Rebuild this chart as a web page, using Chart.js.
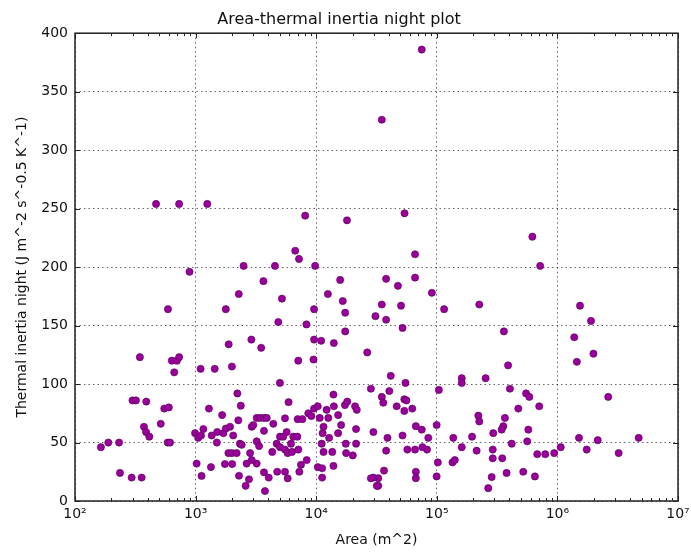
<!DOCTYPE html>
<html>
<head>
<meta charset="utf-8">
<title>Area-thermal inertia night plot</title>
<script src="https://cdn.jsdelivr.net/npm/chart.js@4.4.1/dist/chart.umd.min.js"></script>
<style>
  html, body { margin: 0; padding: 0; background: #fff; }
  canvas { display: block; }
</style>
</head>
<body>
<canvas id="scatter" width="691" height="553"></canvas>
<script>
// Area (m^2) of each feature
const area = [
  // upper part (> 110)
  75000, 35000, 470, 730, 1250, 8100, 18000, 54000, 620000, 66000,
  720000, 38000, 66000, 890, 2500, 4550, 6700, 7200, 9800, 3650,
  15800, 47600, 91000, 2280, 12500, 5200, 16600, 590, 1780, 9600,
  17400, 31000, 4850, 8300, 17400, 2900, 1880, 9600, 11000, 14000,
  3500, 26500, 345, 635, 700, 730, 665, 1100, 1440, 2000,
  7100, 9500, 35000, 50500, 38000, 52000, 115000, 225000, 360000, 1540000,
  1900000, 1380000, 1990000, 1450000, 390000,
  // middle / right side
  5000, 28400, 2220, 13900, 300, 320, 390, 2370, 5900, 550,
  600, 1290, 41500, 40400, 55000, 35000, 36000, 46500, 53800, 56000,
  53800, 62600, 104000, 161000, 161000, 254000, 404000, 550000, 585000, 474000,
  707000, 2640000, 221000, 225000, 367000, 356000, 345000, 294000, 574000, 562000,
  418000, 291000, 291000, 349000, 285000, 267000, 379000, 521000, 651000, 681000,
  793000, 942000, 1065000, 1510000, 1750000, 2160000, 3220000, 4720000, 196000, 214000,
  137000, 161000, 102000, 135000, 141000, 99700, 99700, 67000, 75000, 85000,
  83000, 76000, 66000, 57000, 52000, 39000, 38000, 29800, 67000, 67000,
  36500, 32700, 29800, 32700,
  // cluster around 10^4
  8600, 9600, 10300, 12200, 14000, 17300, 18100, 21000, 21700, 21400,
  16100, 15200, 17600, 21400, 20100, 17700, 13900, 13600, 11500, 12800,
  11300, 11100, 11500, 12600, 10700, 10300, 11200, 11200, 28400, 31800,
  15200,
  // left of 10^3
  373, 388, 413, 514, 164, 189, 232, 587, 614, 236, 295, 357,
  // cluster between 10^3 and 10^4
  990, 1050, 1160, 1110, 1360, 1500, 1510, 1700, 1780, 1930,
  2050, 2260, 2330, 2410, 1870, 2000, 2190, 1750, 2010, 2290,
  2600, 2770, 2650, 3210, 2920, 2920, 3010, 3210, 3420, 3690,
  3890, 4410, 3690, 3210, 3360, 2830, 3690, 4040, 3760, 4750,
  5510, 5800, 4320, 4700, 5010, 5010, 5330, 5690, 5510, 5800,
  6180, 6460, 6970, 7110, 7480, 7250, 8340, 7020, 7670, 9120,
  1020, 1120, 1340, 5510, 1660, 6300
];

// Thermal inertia night, same order as area
const inertia = [
  386, 326, 254, 254, 254, 244, 240, 246, 226, 211,
  201, 190, 191, 196, 201, 201, 214, 207, 201, 188,
  189, 184, 178, 177, 177, 173, 171, 164, 164, 164,
  161, 158, 153, 151, 145, 138, 134, 138, 137, 135,
  131, 127, 123, 120, 120, 123, 110, 113, 113, 115,
  120, 121, 168, 167, 155, 148, 164, 168, 145, 167,
  154, 140, 126, 119, 116,

  101, 96, 92, 91, 86, 86, 85, 81.5, 84.5, 79,
  80, 79, 107, 94, 101, 89, 84, 81, 87, 86,
  77, 79, 95, 105, 101, 105, 96, 92, 89, 79,
  81, 89, 73, 68, 71, 64, 61, 58, 61, 51,
  49, 44, 36.5, 36.5, 20.5, 11, 24, 25, 21, 40,
  40, 41, 46, 54, 44, 52, 41, 54, 55, 43,
  54, 46, 33, 33, 35, 21, 65, 64, 61, 54,
  44, 46, 44, 44, 56, 54, 43, 59, 25, 19.5,
  26, 19.5, 20, 13,

  75, 79, 81, 78, 81, 82, 85, 81, 78, 61.5,
  65, 58, 49, 49, 39, 41, 30, 42, 42, 54,
  58, 49, 63.5, 71, 71, 29, 28, 20, 19.4, 13,
  73.5,

  63.5, 59, 55, 66, 46, 50, 50, 50, 50, 24, 20, 20,

  58, 54, 61.5, 56, 56, 50, 59, 58, 62, 63.5,
  56, 69, 49, 48, 41, 41, 41, 31.6, 31.6, 21.6,
  13, 18.5, 32, 32, 35, 63.5, 65, 71, 71, 71,
  71, 66, 60, 51, 47, 41, 24.5, 20, 8.5, 25,
  25, 19.4, 42, 49, 55, 46, 55, 59, 44, 41,
  49, 55, 55, 44, 31, 25, 35, 70, 70, 72.6,
  32, 21.4, 29, 70.7, 73.5, 42
];

const xTicks = [1e2, 1e3, 1e4, 1e5, 1e6, 1e7];
const xTickLabels = ['10²', '10³', '10⁴', '10⁵', '10⁶', '10⁷'];
const yTicks = [0, 50, 100, 150, 200, 250, 300, 350, 400];

const FONT = "'DejaVu Sans', sans-serif";

// matplotlib-classic look: black frame with inward ticks on all four sides
const frameTicks = {
    id: 'frameTicks',
    afterDraw(chart) {
        const { ctx, chartArea: a, scales: { x, y } } = chart;
        ctx.save();
        ctx.strokeStyle = '#222';
        ctx.lineWidth = 1;
        ctx.beginPath();
        yTicks.forEach(v => {
            const py = Math.round(y.getPixelForValue(v)) + 0.5;
            ctx.moveTo(a.left, py); ctx.lineTo(a.left + 5, py);
            ctx.moveTo(a.right, py); ctx.lineTo(a.right - 5, py);
        });
        xTicks.forEach(v => {
            const px = Math.round(x.getPixelForValue(v)) + 0.5;
            ctx.moveTo(px, a.bottom); ctx.lineTo(px, a.bottom - 5);
            ctx.moveTo(px, a.top); ctx.lineTo(px, a.top + 5);
        });
        // minor ticks 2..9 x 10^n
        for (let d = 2; d < 7; d++) {
            for (let m = 2; m <= 9; m++) {
                const px = Math.round(x.getPixelForValue(m * Math.pow(10, d))) + 0.5;
                ctx.moveTo(px, a.bottom); ctx.lineTo(px, a.bottom - 3);
                ctx.moveTo(px, a.top); ctx.lineTo(px, a.top + 3);
            }
        }
        ctx.stroke();
        ctx.lineWidth = 1.5;
        ctx.strokeRect(a.left, a.top, a.right - a.left, a.bottom - a.top);
        ctx.restore();
    }
};

new Chart(document.getElementById('scatter'), {
    type: 'scatter',
    data: {
        datasets: [{
            data: area.map((a, i) => ({ x: a, y: inertia[i] })),
            backgroundColor: '#990099',
            borderColor: '#55005a',
            borderWidth: 0.6,
            pointRadius: 3.6,
            pointHoverRadius: 3.6
        }]
    },
    options: {
        responsive: false,
        animation: false,
        layout: { padding: { left: 0, right: 13, top: 0, bottom: 0 } },
        plugins: {
            legend: { display: false },
            tooltip: { enabled: false },
            title: {
                display: true,
                text: 'Area-thermal inertia night plot',
                color: '#111',
                font: { family: FONT, size: 16, weight: 'normal' },
                padding: { top: 10, bottom: 4 }
            }
        },
        scales: {
            x: {
                type: 'logarithmic',
                min: 1e2,
                max: 1e7,
                afterBuildTicks: s => { s.ticks = xTicks.map(v => ({ value: v })); },
                afterFit: s => { s.height = 52; s.paddingLeft = 0; s.paddingRight = 0; },
                ticks: {
                    color: '#111',
                    font: { family: FONT, size: 14 },
                    padding: 5,
                    maxRotation: 0,
                    autoSkip: false,
                    callback: v => xTickLabels[xTicks.indexOf(v)]
                },
                grid: { color: 'rgba(0,0,0,0.6)', lineWidth: 1, drawTicks: false },
                border: { display: false, dash: [1.5, 3] },
                title: {
                    display: true,
                    text: 'Area (m^2)',
                    color: '#111',
                    font: { family: FONT, size: 14 },
                    padding: { top: 0, bottom: 4 }
                }
            },
            y: {
                min: 0,
                max: 400,
                afterBuildTicks: s => { s.ticks = yTicks.map(v => ({ value: v })); },
                afterFit: s => { s.width = 75; },
                ticks: {
                    color: '#111',
                    font: { family: FONT, size: 14 },
                    padding: 7
                },
                grid: { color: 'rgba(0,0,0,0.6)', lineWidth: 1, drawTicks: false },
                border: { display: false, dash: [1.5, 3] },
                title: {
                    display: true,
                    text: 'Thermal inertia night (J m^-2 s^-0.5 K^-1)',
                    color: '#111',
                    font: { family: FONT, size: 14 },
                    padding: { top: 14, bottom: 0 }
                }
            }
        }
    },
    plugins: [frameTicks]
});
</script>
</body>
</html>
